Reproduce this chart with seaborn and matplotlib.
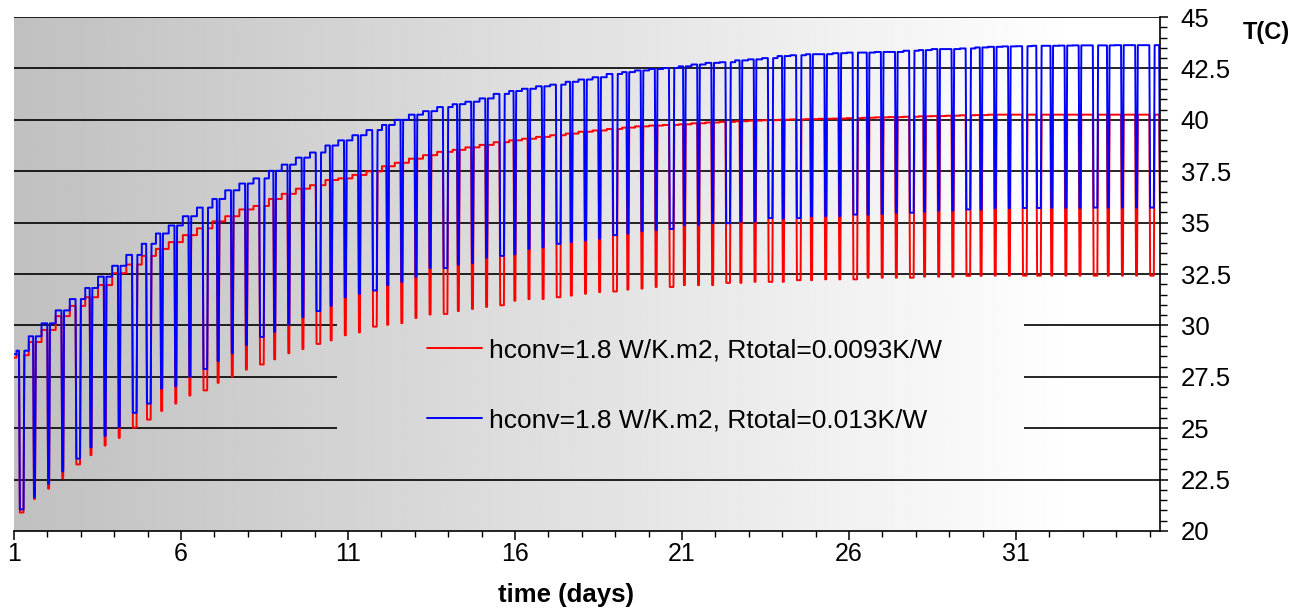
import numpy as np
import pandas as pd
import matplotlib
matplotlib.use("Agg")
import matplotlib.pyplot as plt
import seaborn as sns
from matplotlib.lines import Line2D

# ---------------- data ----------------
start_day = 1.0
end_day = 35.31
first_drop_day = 1.15
cycle_days = 0.423

blue_start = 28.60
red_start = 28.43
blue_end = 36.2
red_end = 35.2

blue_top = [28.77, 29.47, 30.10, 30.73, 31.28, 31.82, 32.37, 32.90, 33.43, 33.97,
            34.47, 34.86, 35.31, 35.73, 36.15, 36.57, 36.90, 37.15, 37.52, 37.82,
            38.16, 38.41, 38.75, 39.00, 39.25, 39.50, 39.75, 40.00, 40.25, 40.42,
            40.62, 40.76, 40.88, 41.04, 41.26, 41.40, 41.51, 41.63, 41.71, 41.85,
            41.96, 42.07, 42.23, 42.32, 42.40, 42.47, 42.52, 42.60, 42.69, 42.77,
            42.80, 42.89, 42.94, 43.00, 43.10, 43.14, 43.19, 43.19, 43.24, 43.27,
            43.27, 43.30, 43.30, 43.36, 43.39, 43.44, 43.44, 43.47, 43.52, 43.55,
            43.57, 43.58, 43.60, 43.60, 43.61, 43.62, 43.62, 43.62, 43.63, 43.63,
            43.63]
blue_min = [21.05, 21.64, 22.30, 22.90, 23.52, 24.07, 24.63, 25.05, 25.75, 26.20,
            26.93, 27.04, 27.51, 27.88, 28.27, 28.65, 29.05, 29.44, 29.69, 30.03,
            30.40, 30.70, 30.95, 31.37, 31.54, 31.70, 31.96, 32.12, 32.37, 32.79,
            32.79, 32.96, 33.04, 33.30, 33.38, 33.46, 33.72, 33.80, 33.97, 34.05,
            34.13, 34.22, 34.39, 34.47, 34.59, 34.64, 34.69, 34.89, 34.89, 34.97,
            34.97, 35.05, 35.05, 35.22, 35.19, 35.22, 35.31, 35.31, 35.31, 35.39,
            35.39, 35.42, 35.48, 35.48, 35.53, 35.59, 35.59, 35.64, 35.64, 35.70,
            35.70, 35.71, 35.71, 35.72, 35.72, 35.72, 35.73, 35.73, 35.73, 35.73,
            35.73]
red_top = [28.55, 29.19, 29.78, 30.45, 30.95, 31.37, 31.96, 32.54, 32.96, 33.38,
           33.72, 34.05, 34.39, 34.72, 35.06, 35.31, 35.64, 35.81, 36.15, 36.40,
           36.65, 36.82, 37.07, 37.15, 37.32, 37.49, 37.74, 37.91, 38.11, 38.28,
           38.44, 38.54, 38.66, 38.78, 38.91, 39.00, 39.08, 39.17, 39.25, 39.33,
           39.42, 39.48, 39.55, 39.62, 39.68, 39.72, 39.75, 39.78, 39.83, 39.87,
           39.90, 39.93, 39.96, 39.98, 40.00, 40.02, 40.03, 40.05, 40.06, 40.08,
           40.10, 40.12, 40.13, 40.15, 40.17, 40.18, 40.20, 40.22, 40.23, 40.25,
           40.25, 40.25, 40.25, 40.25, 40.25, 40.25, 40.25, 40.25, 40.25, 40.25,
           40.25]
red_min = [20.90, 21.56, 22.06, 22.57, 23.24, 23.69, 24.16, 24.53, 25.03, 25.42,
           25.84, 26.20, 26.59, 26.84, 27.21, 27.51, 27.85, 28.10, 28.35, 28.65,
           28.85, 29.10, 29.27, 29.52, 29.66, 29.94, 30.03, 30.11, 30.36, 30.53,
           30.56, 30.70, 30.80, 30.90, 30.98, 31.20, 31.28, 31.28, 31.37, 31.45,
           31.54, 31.62, 31.65, 31.74, 31.79, 31.87, 31.87, 31.96, 31.96, 31.96,
           32.07, 32.07, 32.12, 32.12, 32.12, 32.20, 32.20, 32.24, 32.24, 32.24,
           32.32, 32.32, 32.32, 32.32, 32.37, 32.37, 32.37, 32.41, 32.41, 32.42,
           32.42, 32.42, 32.42, 32.42, 32.42, 32.42, 32.42, 32.42, 32.42, 32.42,
           32.42]
# cycles (1-based) whose trough lasts longer (open rectangles in the chart)
long_trough_cycles = [1, 5, 9, 10, 14, 18, 22, 26, 31, 35, 39, 43, 47, 51, 54, 56,
                      60, 64, 68, 72, 73, 77, 81]

series_names = ["hconv=1.8 W/K.m2, Rtotal=0.0093K/W",
                "hconv=1.8 W/K.m2, Rtotal=0.013K/W"]
series_colors = ["#FF0000", "#0000FF"]
x_tick_values = [1, 6, 11, 16, 21, 26, 31]
y_tick_values = [20, 22.5, 25, 27.5, 30, 32.5, 35, 37.5, 40, 42.5, 45]
y_tick_labels = ["20", "22.5", "25", "27.5", "30", "32.5", "35", "37.5", "40", "42.5", "45"]
split_grid_values = [25, 27.5, 30]
x_title = "time (days)"
y_title = "T(C)"

# ---------------- build the cycle traces ----------------
DROP = 0.025
SHORT_HOLD = 0.03
LONG_HOLD = 0.11


def trace(start_val, tops, lows, end_val):
    t, v = [start_day], [start_val]
    prev = start_val
    recov = start_day
    for k in range(len(tops)):
        tk = first_drop_day + k * cycle_days
        mid = 0.5 * (recov + tk)
        t += [mid, mid, tk]
        v += [prev, tops[k], tops[k]]
        hold = LONG_HOLD if (k + 1) in long_trough_cycles else SHORT_HOLD
        t += [tk + DROP, tk + DROP + hold, tk + 2 * DROP + hold]
        v += [lows[k], lows[k], tops[k]]
        prev = tops[k]
        recov = tk + 2 * DROP + hold
    t += [end_day - DROP, end_day]
    v += [tops[-1], end_val]
    return t, v


frames = []
for name, st, tp, lo, en in [(series_names[0], red_start, red_top, red_min, red_end),
                             (series_names[1], blue_start, blue_top, blue_min, blue_end)]:
    tt, vv = trace(st, tp, lo, en)
    frames.append(pd.DataFrame({"day": tt, "T": vv, "series": name}))
df = pd.concat(frames, ignore_index=True)

# ---------------- figure ----------------
sns.set_style("white")
plt.rcParams["font.family"] = ["Liberation Sans", "DejaVu Sans"]
plt.rcParams["text.color"] = "black"
plt.rcParams["axes.labelcolor"] = "black"
plt.rcParams["xtick.color"] = "black"
plt.rcParams["ytick.color"] = "black"

W, H = 1308, 611
fig = plt.figure(figsize=(W / 100, H / 100), dpi=100)
ax = fig.add_axes([14 / W, 1 - 531 / H, 1146 / W, 514 / H])

# gradient background
grad = np.linspace(0, 1, 600)
grad = 192 + 63 * np.clip(grad / 0.93, 0, 1)
ax.imshow(np.vstack([grad, grad]), extent=[start_day, end_day, 20, 45], aspect="auto",
          cmap="gray", vmin=0, vmax=255, zorder=0, interpolation="bilinear")

# horizontal grid (some lines broken around the legend)
for yv in y_tick_values[1:]:
    if yv in split_grid_values:
        ax.hlines(yv, start_day, 10.67, color="black", lw=1.2, zorder=1)
        ax.hlines(yv, 31.24, end_day, color="black", lw=1.2, zorder=1)
    else:
        ax.hlines(yv, start_day, end_day, color="black", lw=1.2, zorder=1)

sns.lineplot(data=df, x="day", y="T", hue="series", hue_order=series_names,
             palette=series_colors, sort=False, estimator=None, units="series",
             linewidth=1.4, legend=False, ax=ax, zorder=3)

ax.set_xlim(start_day, end_day)
ax.set_ylim(20, 45)

for s in ["left", "top"]:
    ax.spines[s].set_visible(False)
for s in ["right", "bottom"]:
    ax.spines[s].set_visible(True)
    ax.spines[s].set_color("black")
    ax.spines[s].set_linewidth(1.2)
    ax.spines[s].set_zorder(4)

ax.yaxis.tick_right()
ax.set_yticks(y_tick_values)
ax.set_yticklabels(y_tick_labels)
ax.set_yticks(np.arange(20, 45.01, 0.5), minor=True)
ax.set_xticks(x_tick_values)
ax.set_xticklabels([str(v) for v in x_tick_values])
ax.set_xticks(np.arange(1, 36, 1), minor=True)

ax.tick_params(axis="y", which="major", direction="out", length=6, width=1.1,
               right=True, left=False, labelright=True, labelleft=False,
               pad=9, labelsize=18.5, colors="black")
ax.tick_params(axis="y", which="minor", direction="out", length=5, width=1.0,
               right=True, left=False, colors="black")
ax.tick_params(axis="x", which="major", direction="out", length=6.5, width=1.1,
               bottom=True, pad=1.5, labelsize=18, colors="black")
ax.tick_params(axis="x", which="minor", direction="out", length=4.5, width=1.0,
               bottom=True, colors="black")

ax.set_xlabel(x_title, fontsize=18.5, fontweight="bold", color="black")
ax.xaxis.set_label_coords((566 - 14) / 1146, (531 - 595) / 514)
ax.xaxis.label.set_va("center")
ax.set_ylabel("")

fig.text(1243 / W, 1 - 33 / H, y_title, fontsize=17, fontweight="bold",
         ha="left", va="center", color="black")

handles = [Line2D([], [], color=c, lw=1.4) for c in series_colors]
leg = ax.legend(handles, series_names, loc="center left", bbox_to_anchor=(0.3604, 0.283),
                frameon=False, fontsize=19, handlelength=2.08, handletextpad=0.27,
                labelspacing=1.75, borderpad=0, borderaxespad=0)
for txt in leg.get_texts():
    txt.set_color("black")

fig.savefig("out.png", dpi=100)
